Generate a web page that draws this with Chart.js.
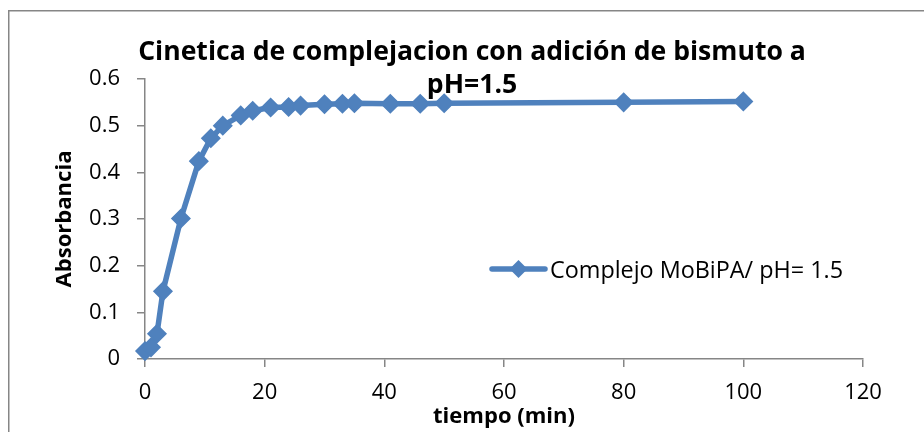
<!DOCTYPE html>
<html>
<head>
<meta charset="utf-8">
<script src="https://cdn.jsdelivr.net/npm/chart.js@4.4.1/dist/chart.umd.min.js"></script>
<style>
  html, body { margin: 0; padding: 0; background: #ffffff; }
  #wrap { width: 924px; height: 432px; position: relative; }
</style>
</head>
<body>
<div id="wrap"><canvas id="c" width="924" height="432"></canvas></div>
<script>
// ---- data ----
const tiempo = [0, 1, 2, 3, 6, 9, 11, 13, 16, 18, 21, 24, 26, 30, 33, 35, 41, 46, 50, 80, 100];
const absorbancia = [0.017, 0.025, 0.054, 0.145, 0.301, 0.424, 0.473, 0.500, 0.522, 0.532, 0.539, 0.540, 0.543, 0.546, 0.547, 0.548, 0.547, 0.547, 0.548, 0.550, 0.552];
const xTickLabels = ['0', '20', '40', '60', '80', '100', '120'];
const yTickLabels = ['0', '0.1', '0.2', '0.3', '0.4', '0.5', '0.6'];
const seriesName = 'Complejo MoBiPA/ pH= 1.5';
const titleLines = ['Cinetica de complejacion con adición de bismuto a', 'pH=1.5'];
const xTitle = 'tiempo (min)';
const yTitle = 'Absorbancia';

const BLUE = '#4F81BD';
const GRAY = '#868686';
const FONT = "'Open Sans', 'Liberation Sans', sans-serif";

function fitFont(ctx, text, target, weight) {
  ctx.font = weight + ' 100px ' + FONT;
  const w = ctx.measureText(text).width;
  return weight + ' ' + (100 * target / w).toFixed(2) + 'px ' + FONT;
}

const decorPlugin = {
  id: 'decor',
  beforeDraw(chart) {
    const ctx = chart.ctx;
    ctx.save();
    ctx.fillStyle = '#ffffff';
    ctx.fillRect(0, 0, chart.width, chart.height);
    ctx.strokeStyle = GRAY;
    ctx.lineWidth = 1.5;
    ctx.strokeRect(8.75, 10.75, 930, 440);
    ctx.restore();
  },
  afterDatasetsDraw(chart) {
    const ctx = chart.ctx;
    const area = chart.chartArea;
    ctx.save();
    ctx.fillStyle = '#000000';
    // title
    const tf = fitFont(ctx, titleLines[0], 668, 'bold');
    ctx.font = tf;
    ctx.textAlign = 'center';
    ctx.textBaseline = 'alphabetic';
    ctx.fillText(titleLines[0], 472, 60);
    ctx.fillText(titleLines[1], 472, 93);
    // x axis title
    ctx.font = fitFont(ctx, xTitle, 142, 'bold');
    ctx.fillText(xTitle, (area.left + area.right) / 2, 423);
    // y axis title
    ctx.save();
    ctx.translate(71, (area.top + area.bottom) / 2);
    ctx.rotate(-Math.PI / 2);
    ctx.font = fitFont(ctx, yTitle, 137, 'bold');
    ctx.textBaseline = 'alphabetic';
    ctx.fillText(yTitle, 0, 0);
    ctx.restore();
    // legend
    const ly = 269;
    ctx.strokeStyle = BLUE;
    ctx.lineWidth = 5.5;
    ctx.lineCap = 'round';
    ctx.beginPath();
    ctx.moveTo(492, ly);
    ctx.lineTo(545, ly);
    ctx.stroke();
    ctx.fillStyle = BLUE;
    ctx.beginPath();
    ctx.moveTo(518.5 - 9, ly);
    ctx.lineTo(518.5, ly - 9);
    ctx.lineTo(518.5 + 9, ly);
    ctx.lineTo(518.5, ly + 9);
    ctx.closePath();
    ctx.fill();
    ctx.fillStyle = '#000000';
    ctx.font = fitFont(ctx, seriesName, 293, 'normal');
    ctx.textAlign = 'left';
    ctx.textBaseline = 'middle';
    ctx.fillText(seriesName, 550, ly + 2);
    ctx.restore();
  }
};

new Chart(document.getElementById('c'), {
  type: 'line',
  data: {
    datasets: [{
      label: seriesName,
      data: tiempo.map((t, i) => ({ x: t, y: absorbancia[i] })),
      borderColor: BLUE,
      backgroundColor: BLUE,
      borderWidth: 5.5,
      pointStyle: 'rectRot',
      pointRadius: 9,
      pointBorderWidth: 1.5,
      pointBorderColor: BLUE,
      pointBackgroundColor: BLUE,
      tension: 0,
      fill: false,
      clip: false
    }]
  },
  options: {
    responsive: false,
    animation: false,
    layout: { padding: { top: 79, right: 61, left: 0, bottom: 0 } },
    plugins: {
      legend: { display: false },
      title: { display: false },
      tooltip: { enabled: false }
    },
    scales: {
      x: {
        type: 'linear',
        min: 0, max: 120,
        afterFit(s) { s.height = 73; },
        afterBuildTicks(s) { s.ticks = xTickLabels.map(v => ({ value: Number(v) })); },
        ticks: {
          callback: (v, i) => xTickLabels[i],
          color: '#000000',
          font: { family: FONT, size: 22 },
          padding: 13,
          maxRotation: 0,
          autoSkip: false
        },
        grid: { display: true, drawOnChartArea: false, drawTicks: true, tickLength: 8, color: GRAY, lineWidth: 1.5 },
        border: { display: true, color: GRAY, width: 1.5 }
      },
      y: {
        type: 'linear',
        min: 0, max: 0.6,
        afterFit(s) { s.width = 145; },
        afterBuildTicks(s) { s.ticks = yTickLabels.map(v => ({ value: Number(v) })); },
        ticks: {
          callback: (v, i) => yTickLabels[i],
          color: '#000000',
          font: { family: FONT, size: 22 },
          padding: 17,
          autoSkip: false
        },
        grid: { display: true, drawOnChartArea: false, drawTicks: true, tickLength: 8, color: GRAY, lineWidth: 1.5 },
        border: { display: true, color: GRAY, width: 1.5 }
      }
    }
  },
  plugins: [decorPlugin]
});
</script>
</body>
</html>
